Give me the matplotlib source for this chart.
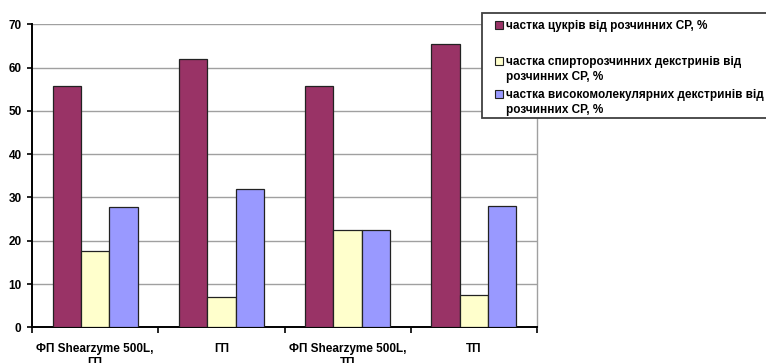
import matplotlib
matplotlib.use('Agg')
import matplotlib.pyplot as plt
from matplotlib.patches import Rectangle
import numpy as np

plt.rcParams['font.family'] = ['Liberation Sans', 'DejaVu Sans']

#categories and series values, %
categories = ['ФП Shearzyme 500L,\nГП', 'ГП', 'ФП Shearzyme 500L,\nТП', 'ТП']
sugars = [55.7, 62.0, 55.8, 65.5]
alcohol_dextrins = [17.6, 7.1, 22.4, 7.4]
hmw_dextrins = [27.8, 31.9, 22.4, 28.1]

series_names = ['частка цукрів від розчинних СР, %',
                'частка спирторозчинних декстринів від\nрозчинних СР, %',
                'частка високомолекулярних декстринів від\nрозчинних СР, %']
series_colors = ['#993366', '#FFFFCC', '#9999FF']
y_ticks = [0, 10, 20, 30, 40, 50, 60, 70]

#figure and plot area
figure = plt.figure(figsize=(7.66, 3.63), dpi=100)
ax = figure.add_axes([32/766, 1-327.3/363, 505/766, 303/363])

x = np.arange(len(categories))
width = 0.224

all_series = [sugars, alcohol_dextrins, hmw_dextrins]

for k, values in enumerate(all_series):
    ax.bar(x+(k-1)*width, values, width,
           color=series_colors[k], edgecolor='#222222', linewidth=0.9,
           zorder=3)

ax.set_xlim(-0.5, len(categories)-0.5)
ax.set_ylim(0, 70)

#grid
ax.set_yticks(y_ticks)
ax.yaxis.grid(True, color='#a0a0a0', linewidth=1, zorder=0)
ax.set_axisbelow(True)

#spines
ax.spines['top'].set_visible(False)
ax.spines['right'].set_color('#a0a0a0')
ax.spines['right'].set_linewidth(1)
ax.spines['left'].set_linewidth(1.4)
ax.spines['bottom'].set_linewidth(1.4)

#ticks
ax.set_xticks(x)
ax.set_xticklabels(categories, fontsize=8.5, fontweight='bold', linespacing=1.2)
ax.set_xticks(np.arange(-0.5, len(categories)), minor=True)
ax.tick_params(axis='x', which='major', length=0, pad=11.5)
ax.tick_params(axis='x', which='minor', length=4, width=1.2, direction='out')
ax.tick_params(axis='y', length=3.5, width=1.2, pad=4, labelsize=8.5)
for label in ax.get_yticklabels():
    label.set_fontweight('bold')

#legend box
box_left = 482/766
box_bottom = 1-118.3/363
box_top = 1-12.7/363
legend_box = Rectangle((box_left, box_bottom), 1.0-box_left+0.01, box_top-box_bottom,
                       transform=figure.transFigure, facecolor='white',
                       edgecolor='#404040', linewidth=1.3, zorder=5)
figure.patches.append(legend_box)

#legend entries
entry_y = [25, 61, 94]
for k, name in enumerate(series_names):
    y_fig = 1-entry_y[k]/363
    square = Rectangle((495/766, y_fig-4/363), 8/766, 8/363,
                       transform=figure.transFigure,
                       facecolor=series_colors[k], edgecolor='#222222',
                       linewidth=0.8, zorder=6)
    figure.patches.append(square)
    figure.text(506/766, y_fig+5/363, name, fontsize=8.5, fontweight='bold',
                va='top', ha='left', linespacing=1.35, zorder=7)

figure.savefig('out.png', dpi=100)
plt.close()
